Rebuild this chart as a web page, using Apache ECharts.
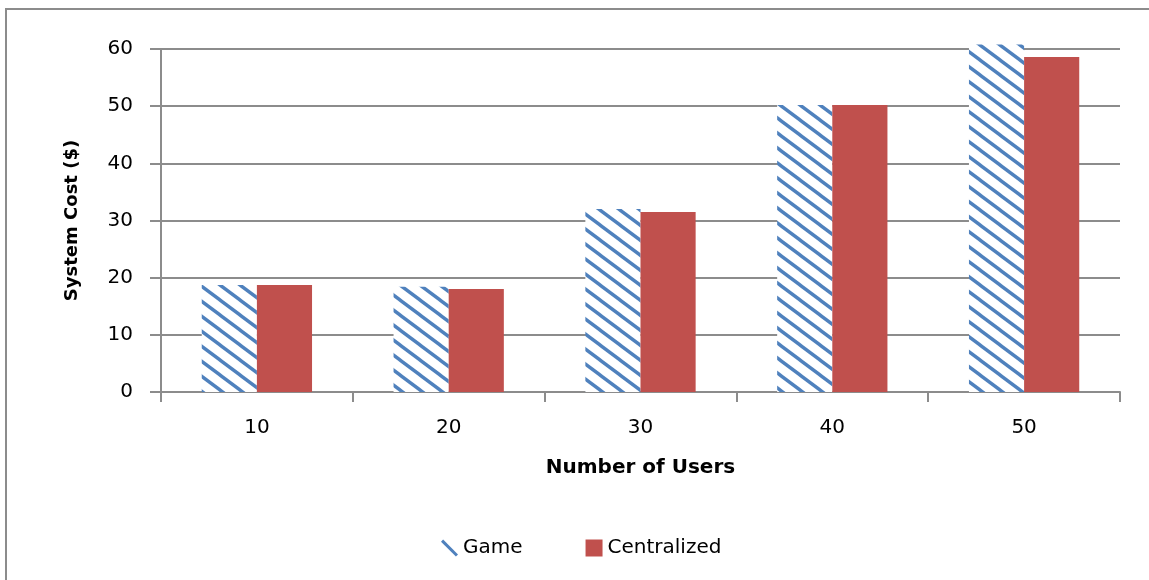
<!DOCTYPE html>
<html>
<head>
<meta charset="utf-8">
<script src="https://cdn.jsdelivr.net/npm/echarts@6/dist/echarts.min.js"></script>
<style>
html,body{margin:0;padding:0;background:#fff;}
#chart{width:1149px;height:580px;}
</style>
</head>
<body>
<div id="chart"></div>
<script>
const categories = ['10', '20', '30', '40', '50'];
const gameValues = [18.7, 18.4, 32.0, 50.2, 60.8];
const centralizedValues = [18.7, 18.0, 31.5, 50.2, 58.6];
const yTicks = { min: 0, max: 60, interval: 10 };

function makeStripe() {
  const W = 20, H = 15;
  const c = document.createElement('canvas');
  c.width = W; c.height = H;
  const ctx = c.getContext('2d');
  ctx.fillStyle = '#ffffff';
  ctx.fillRect(0, 0, W, H);
  ctx.strokeStyle = '#4F81BD';
  ctx.lineWidth = 3.4;
  [-W, 0, W].forEach(function (dx) {
    ctx.beginPath();
    ctx.moveTo(dx - W, -H);
    ctx.lineTo(dx + 2 * W, 2 * H);
    ctx.stroke();
  });
  return c;
}

const chart = echarts.init(document.getElementById('chart'), null, { renderer: 'canvas' });
const font = 'DejaVu Sans, Verdana, sans-serif';
chart.setOption({
  animation: false,
  backgroundColor: '#ffffff',
  graphic: [{
    type: 'rect',
    shape: { x: 6, y: 9, width: 1400, height: 900 },
    style: { fill: 'none', stroke: '#8c8c8c', lineWidth: 2 },
    silent: true
  }],
  grid: { left: 161, right: 29, top: 49, bottom: 188, containLabel: false },
  legend: {
    left: 436,
    top: 533,
    itemGap: 63,
    itemWidth: 17,
    itemHeight: 17,
    textStyle: { fontFamily: font, fontSize: 20, color: '#000' },
    data: [
      { name: 'Game', icon: 'path://M0,2 L2,0 L16,14 L14,16 Z', itemStyle: { color: '#4F81BD' } },
      { name: 'Centralized', icon: 'rect', itemStyle: { color: '#C0504D' } }
    ]
  },
  xAxis: {
    type: 'category',
    data: categories,
    name: 'Number of Users',
    nameLocation: 'middle',
    nameGap: 66,
    nameTextStyle: { fontFamily: font, fontSize: 20, fontWeight: 'bold', color: '#000' },
    axisLine: { show: true, lineStyle: { color: '#8c8c8c', width: 2 } },
    axisTick: { show: true, length: 10, lineStyle: { color: '#8c8c8c', width: 2 } },
    axisLabel: { fontFamily: font, fontSize: 20, color: '#000', margin: 26 },
    splitLine: { show: false }
  },
  yAxis: {
    type: 'value',
    min: yTicks.min,
    max: yTicks.max,
    interval: yTicks.interval,
    name: 'System Cost ($)',
    nameLocation: 'middle',
    nameGap: 80,
    nameTextStyle: { fontFamily: font, fontSize: 18, fontWeight: 'bold', color: '#000' },
    axisLine: { show: true, lineStyle: { color: '#8c8c8c', width: 2 } },
    axisTick: { show: true, length: 11, lineStyle: { color: '#8c8c8c', width: 2 } },
    axisLabel: { fontFamily: font, fontSize: 20, color: '#000', margin: 28 },
    splitLine: { show: true, lineStyle: { color: '#8c8c8c', width: 2 } }
  },
  series: [
    {
      name: 'Game',
      type: 'bar',
      data: gameValues,
      barGap: '0%',
      barCategoryGap: '42.5%',
      clip: false,
      itemStyle: { color: { image: makeStripe(), repeat: 'repeat' } },
      emphasis: { disabled: true }
    },
    {
      name: 'Centralized',
      type: 'bar',
      data: centralizedValues,
      barGap: '0%',
      barCategoryGap: '42.5%',
      clip: false,
      itemStyle: { color: '#C0504D' },
      emphasis: { disabled: true }
    }
  ]
});
</script>
</body>
</html>
